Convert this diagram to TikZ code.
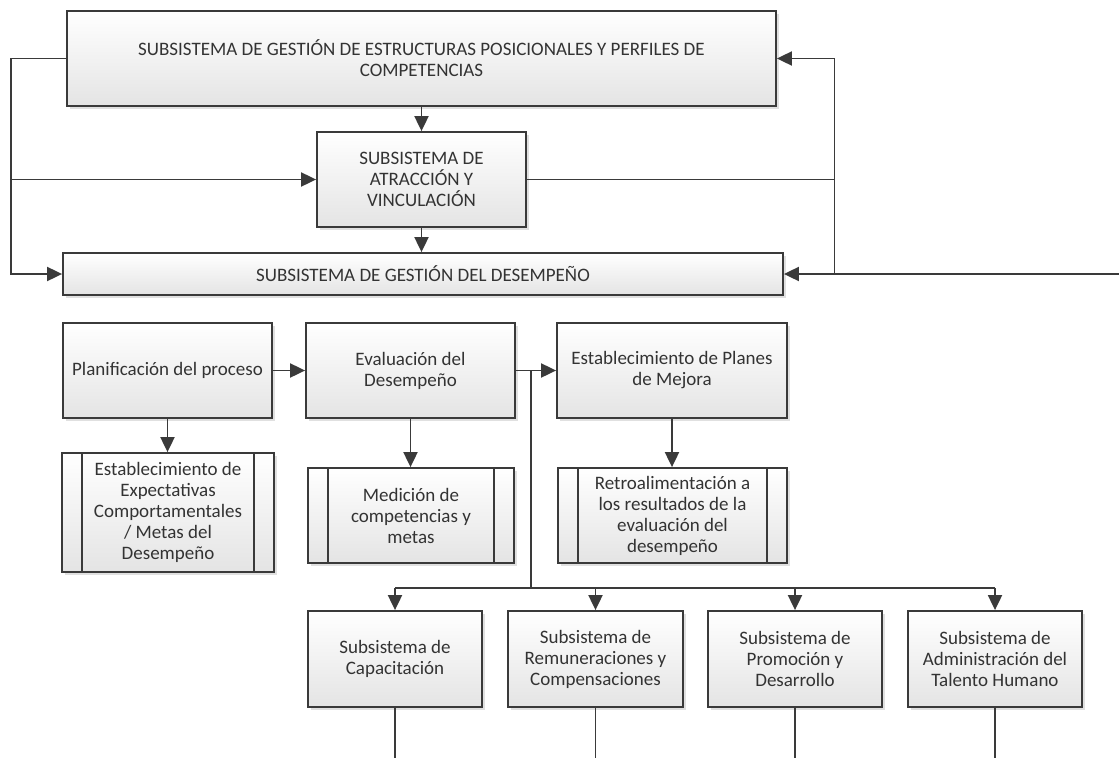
\documentclass[tikz,border=0pt]{standalone}
\usepackage{fontspec}
\setmainfont{Carlito}
\usetikzlibrary{arrows.meta,shadows,calc}
\definecolor{ln}{HTML}{3A3A3A}
\definecolor{tx}{HTML}{333333}
\definecolor{bot}{HTML}{E4E4E4}
\begin{document}
\begin{tikzpicture}[x=1pt,y=-1pt,
  box/.style={draw=ln, line width=1.8pt, top color=white, bottom color=bot,
    inner sep=0pt, align=center, text=tx,
    font=\fontsize{19}{21}\selectfont,
    drop shadow={shadow xshift=2.5pt, shadow yshift=-2.5pt, fill=black, opacity=0.12}},
  conn/.style={draw=ln, line width=1.9pt},
  arr/.style={conn, -{Triangle[length=15pt,width=14pt]}},
  bar/.style={draw=ln, line width=1.8pt}]
\useasboundingbox (0,0) rectangle (1119,758);
% top section
\node[box, minimum width=709pt, minimum height=95pt] (top) at (421.5,58.5)
  {SUBSISTEMA DE GESTIÓN DE ESTRUCTURAS POSICIONALES Y PERFILES DE\\COMPETENCIAS};
\node[box, minimum width=209pt, minimum height=95pt] (atr) at (421.5,179.5)
  {SUBSISTEMA DE\\ATRACCIÓN Y\\VINCULACIÓN};
\node[box, minimum width=720pt, minimum height=42pt] (des) at (423,274)
  {SUBSISTEMA DE GESTIÓN DEL DESEMPEÑO};
% second section
\node[box, minimum width=209pt, minimum height=95pt] (plan) at (167.5,370.5)
  {Planificación del proceso};
\node[box, minimum width=209pt, minimum height=95pt] (eval) at (410.5,370.5)
  {Evaluación del\\Desempeño};
\node[box, minimum width=230pt, minimum height=95pt] (mej) at (672,370.5)
  {Establecimiento de Planes\\de Mejora};
\node[box, minimum width=212pt, minimum height=119pt] (exp) at (168,512.5)
  {Establecimiento de\\Expectativas\\Comportamentales\\/ Metas del\\Desempeño};
\node[box, minimum width=206pt, minimum height=95pt] (med) at (411,515.5)
  {Medición de\\competencias y\\metas};
\node[box, minimum width=229pt, minimum height=95pt] (ret) at (672.5,515.5)
  {Retroalimentación a\\los resultados de la\\evaluación del\\desempeño};
% bottom row
\node[box, minimum width=174pt, minimum height=96pt] (cap) at (395,659)
  {Subsistema de\\Capacitación};
\node[box, minimum width=175pt, minimum height=96pt] (rem) at (595.5,659)
  {Subsistema de\\Remuneraciones y\\Compensaciones};
\node[box, minimum width=174pt, minimum height=96pt] (pro) at (795,659)
  {Subsistema de\\Promoción y\\Desarrollo};
\node[box, minimum width=174pt, minimum height=96pt] (adm) at (995,659)
  {Subsistema de\\Administración del\\Talento Humano};
% sub-process bars
\foreach \n in {exp,med,ret}{
  \draw[bar] ($(\n.north west)+(21,0)$) -- ($(\n.south west)+(21,0)$);
  \draw[bar] ($(\n.north east)+(-21,0)$) -- ($(\n.south east)+(-21,0)$);
}
% helper coordinates
\coordinate (lft) at (11,0);
\coordinate (rgt) at (834.5,0);
\coordinate (far) at (1119,274);
\coordinate (bx) at (531,0);
\coordinate (bus) at (531,588);
\coordinate (btm) at (0,758);
% top connectors
\draw[arr] (top.south) -- (atr.north);
\draw[arr] (atr.south) -- (atr.south |- des.north);
\draw[arr] (top.west) -- (top.west -| lft) |- (des.west);
\draw[arr] (lft |- atr.west) -- (atr.west);
\draw[arr] (far) -- (des.east);
\draw[arr] (rgt |- des.east) |- (top.east);
\draw[conn] (atr.east) -- (atr.east -| rgt);
% second section connectors
\draw[arr] (plan.east) -- (eval.west);
\draw[arr] (eval.east) -- (mej.west);
\draw[arr] (plan.south) -- (plan.south |- exp.north);
\draw[arr] (eval.south) -- (eval.south |- med.north);
\draw[arr] (mej.south) -- (mej.south |- ret.north);
\draw[conn] (bx |- eval.east) -- (bus);
\draw[conn] (cap.north |- bus) -- (adm.north |- bus);
\foreach \n in {cap,rem,pro,adm}{
  \draw[arr] (\n.north |- bus) -- (\n.north);
  \draw[conn] (\n.south) -- (\n.south |- btm);
}
\end{tikzpicture}
\end{document}
